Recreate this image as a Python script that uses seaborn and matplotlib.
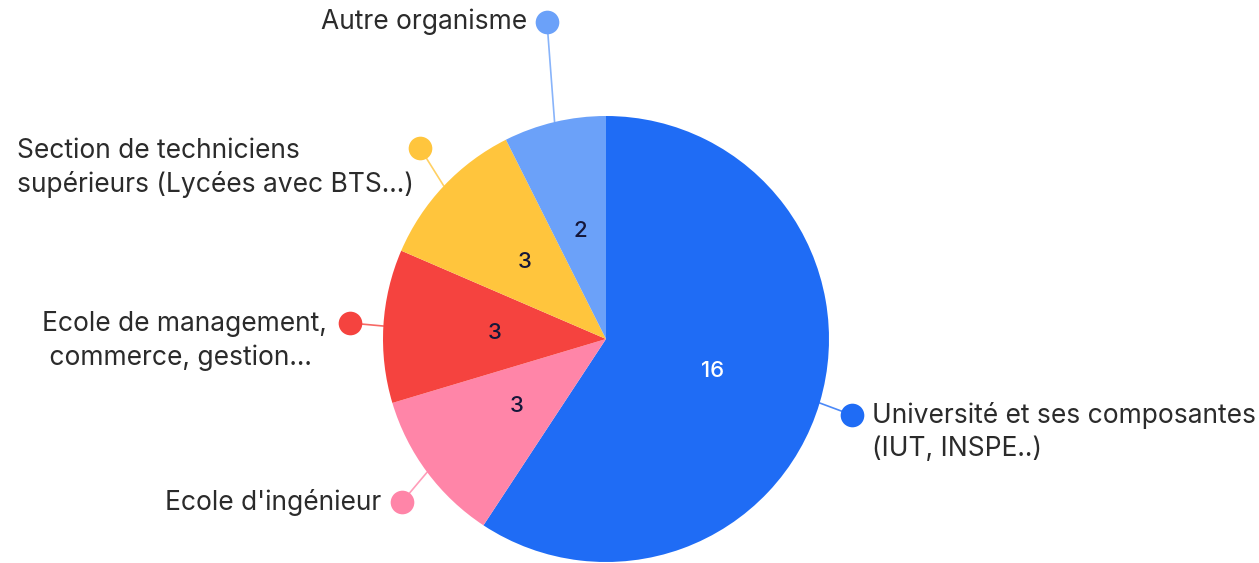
"""Pie chart: répartition par type d'établissement."""

import matplotlib
matplotlib.use("Agg")
import matplotlib.pyplot as plt
import numpy as np
import seaborn as sns

categories = [
    "Université et ses composantes\n(IUT, INSPE..)",
    "Ecole d'ingénieur",
    "Ecole de management,\n commerce, gestion...",
    "Section de techniciens\nsupérieurs (Lycées avec BTS...)",
    "Autre organisme",
]
values = [16, 3, 3, 3, 2]
colors = ["#1F6CF5", "#FF85A8", "#F5433F", "#FFC53D", "#6BA1F9"]
value_colors = ["white", "#15173A", "#15173A", "#15173A", "#15173A"]

W, H = 1259, 563


def main() -> None:
    sns.set_theme(style="white")
    plt.rcParams["font.family"] = ["Inter", "DejaVu Sans"]

    fig = plt.figure(figsize=(W / 100, H / 100), dpi=100)
    ax = fig.add_axes([0, 0, 1, 1])

    cx, cy, r = 606, H - 339, 223
    wedges, _ = ax.pie(
        values,
        colors=colors,
        startangle=90,
        counterclock=False,
        center=(cx, cy),
        radius=r,
        wedgeprops=dict(linewidth=0),
        frame=True,
    )
    ax.set_xlim(0, W)
    ax.set_ylim(0, H)
    ax.set_aspect("equal")
    ax.axis("off")

    # label layout: dot position (px), text anchor (px), alignment
    layout = [
        ((852, 415), (872, 432), "left"),
        ((402, 502), (381, 502), "right"),
        ((350, 323), (42, 341), "left"),
        ((420, 148), (17, 168), "left"),
        ((547, 22), (527, 22), "right"),
    ]

    for w, val, vcol, col, lab, (dot, tpos, ha) in zip(
        wedges, values, value_colors, colors, categories, layout
    ):
        mid = np.deg2rad((w.theta1 + w.theta2) / 2)
        ax.text(cx + 0.5 * r * np.cos(mid), cy + 0.5 * r * np.sin(mid), str(val),
                ha="center", va="center", fontsize=16, color=vcol, fontweight="medium")
        ex, ey = cx + r * np.cos(mid), cy + r * np.sin(mid)
        dx, dy = dot[0], H - dot[1]
        ax.plot([ex, dx], [ey, dy], color=col, lw=1.2, alpha=0.8, zorder=1)
        ax.scatter([dx], [dy], s=290, color=col, zorder=3, linewidths=0)
        ax.text(tpos[0], H - tpos[1], lab, ha=ha, va="center", fontsize=19,
                color="#2B2B2B", linespacing=1.38)

    fig.savefig("out.png", dpi=100)
    plt.close(fig)


if __name__ == "__main__":
    main()
